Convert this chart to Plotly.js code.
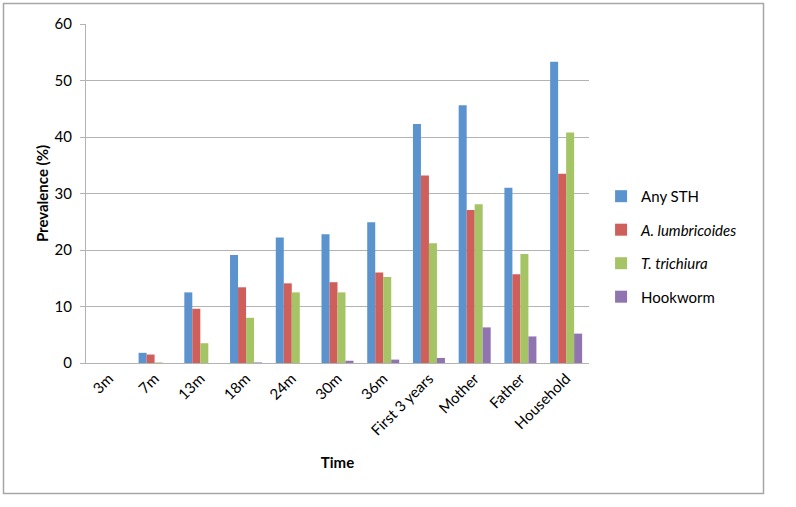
<!DOCTYPE html>
<html>
<head>
<meta charset="utf-8">
<script src="https://cdn.plot.ly/plotly-3.0.1.min.js"></script>
<style>
html,body{margin:0;padding:0;background:#fff;}
#chart{width:796px;height:507px;}
</style>
</head>
<body>
<div id="chart"></div>
<script>
const categories = ["3m","7m","13m","18m","24m","30m","36m","First 3 years","Mother","Father","Household"];
const anySTH =        [0, 1.8, 12.5, 19.1, 22.2, 22.8, 24.9, 42.3, 45.6, 31.0, 53.3];
const aLumbricoides = [0, 1.5,  9.6, 13.4, 14.1, 14.3, 16.0, 33.2, 27.1, 15.7, 33.5];
const tTrichiura =    [0, 0.1,  3.5,  8.0, 12.5, 12.5, 15.2, 21.2, 28.1, 19.3, 40.8];
const hookworm =      [0, 0,    0,    0.1,  0,    0.4,  0.6,  0.9,  6.3,  4.7,  5.2];
const seriesNames = ["Any STH","<i>A. lumbricoides</i>","<i>T. trichiura</i>","Hookworm"];
const yTicks = [0,10,20,30,40,50,60];

const colors = ["#5B93CF","#CF5F5B","#A5C465","#8F74B0"];
const seriesData = [anySTH, aLumbricoides, tTrichiura, hookworm];

const traces = seriesData.map((vals, i) => ({
  type: "bar",
  x: categories,
  y: vals,
  name: seriesNames[i],
  legendgroup: "g" + i,
  marker: {color: colors[i], line: {width: 0}},
  hoverinfo: "x+y+name"
}));

const font = "Lato, 'Open Sans', sans-serif";
const layout = {
  width: 796, height: 507,
  margin: {l: 86, r: 207, t: 24, b: 144},
  paper_bgcolor: "#fff",
  plot_bgcolor: "#fff",
  font: {family: font, size: 15, color: "#000"},
  barmode: "group",
  bargap: 0.3,
  bargroupgap: 0,
  showlegend: true,
  legend: {
    x: 1.024, xanchor: "left",
    y: 0.54, yanchor: "top",
    traceorder: "grouped",
    tracegroupgap: 11,
    font: {family: font, size: 15, color: "#000"},
    itemwidth: 30
  },
  xaxis: {
    type: "category",
    tickangle: -45,
    showgrid: false,
    showline: true,
    linecolor: "#b3b3b3",
    linewidth: 1,
    ticks: "",
    tickfont: {family: font, size: 15, color: "#000"},
    title: {text: "<b>Time</b>", font: {family: font, size: 15, color: "#000"}, standoff: 19},
    automargin: false,
    fixedrange: true
  },
  yaxis: {
    range: [0, 60],
    tickvals: yTicks,
    ticktext: yTicks.map(String),
    showgrid: true,
    gridcolor: "#b3b3b3",
    gridwidth: 1,
    showline: true,
    linecolor: "#b3b3b3",
    linewidth: 1,
    ticks: "outside",
    ticklen: 5,
    tickcolor: "#b3b3b3",
    ticklabelstandoff: 5,
    tickfont: {family: font, size: 15, color: "#000"},
    title: {text: "<b>Prevalence (%)</b>", font: {family: font, size: 15, color: "#000"}, standoff: 2},
    zeroline: false,
    automargin: false,
    fixedrange: true
  },
  shapes: [{
    type: "rect", xref: "paper", yref: "paper",
    x0: (3.5-86)/503, x1: (763.5-86)/503,
    y0: (363-493.5)/339, y1: (363-3.5)/339,
    line: {color: "#a6a6a6", width: 1.5},
    fillcolor: "rgba(0,0,0,0)",
    layer: "below"
  }]
};

Plotly.newPlot("chart", traces, layout, {displayModeBar: false, staticPlot: true});
</script>
</body>
</html>
